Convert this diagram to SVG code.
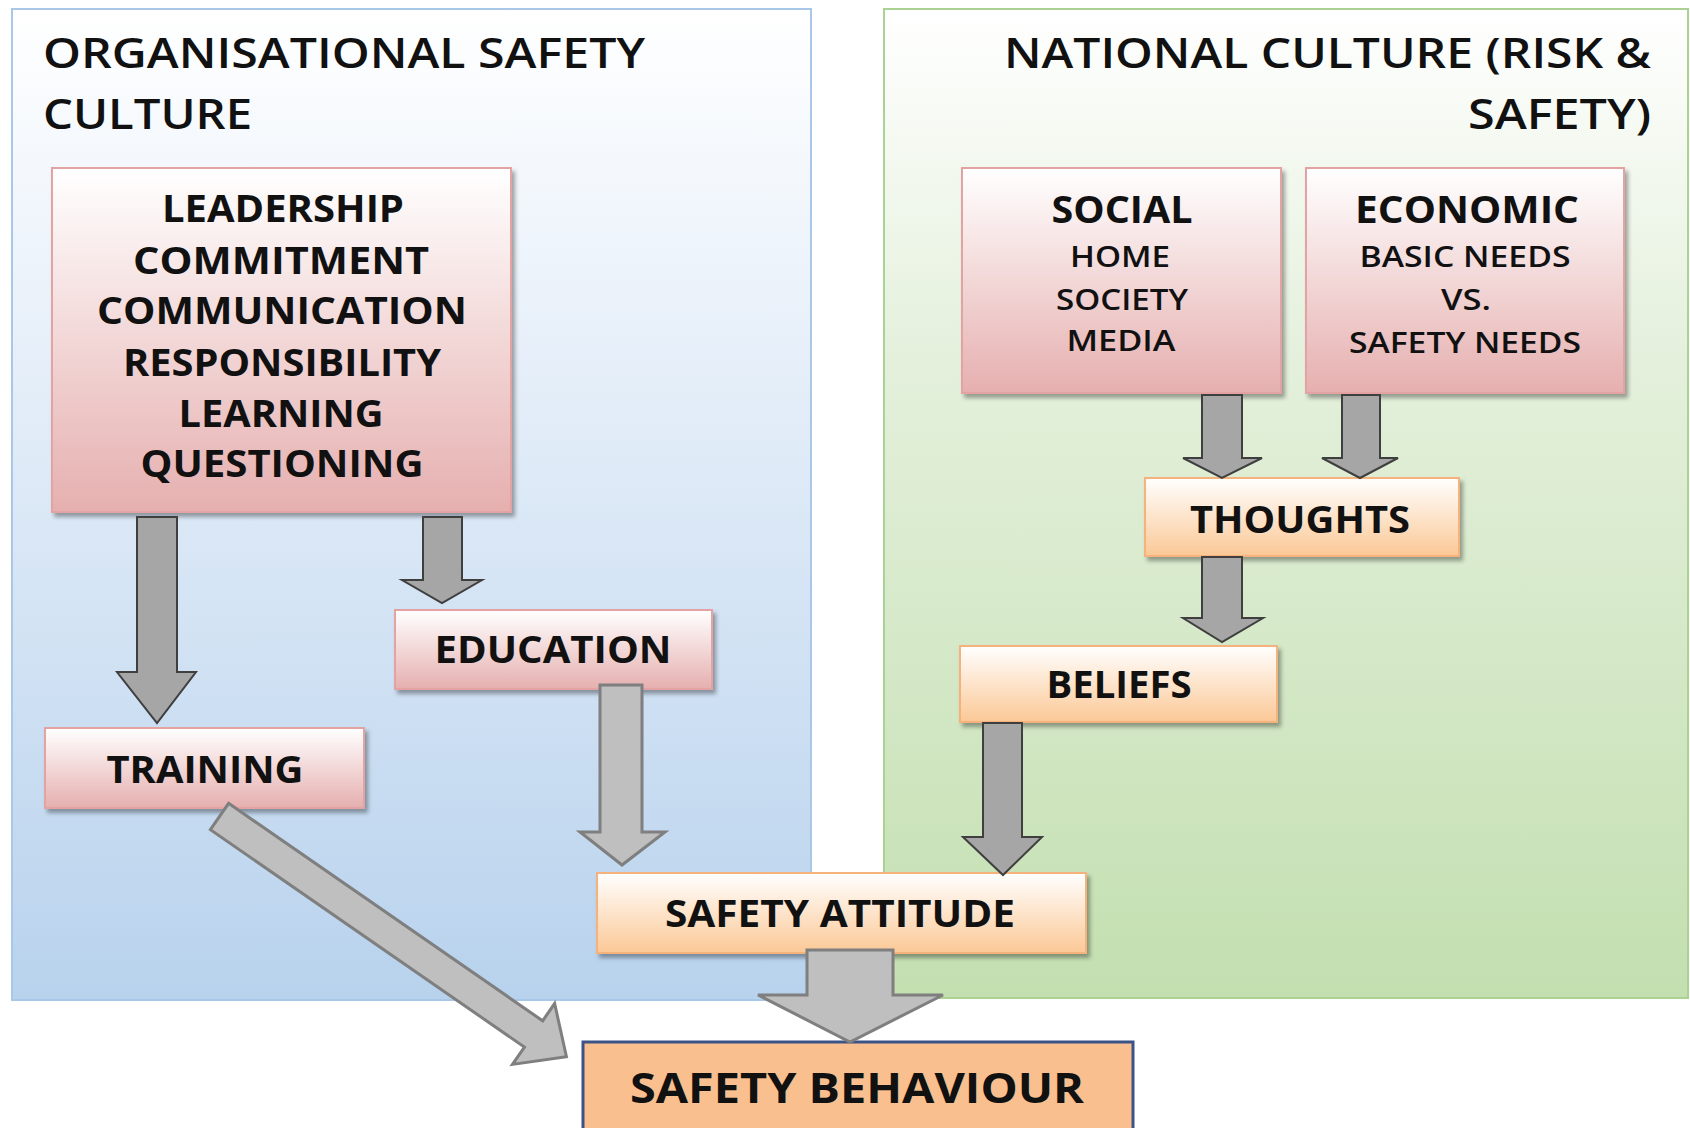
<svg xmlns="http://www.w3.org/2000/svg" width="1690" height="1128" viewBox="0 0 1690 1128">
  <defs>
    <linearGradient id="gBlue" x1="0" y1="0" x2="0" y2="1">
      <stop offset="0" stop-color="#ffffff"/>
      <stop offset="0.35" stop-color="#e6eff9"/>
      <stop offset="1" stop-color="#b8d2ed"/>
    </linearGradient>
    <linearGradient id="gGreen" x1="0" y1="0" x2="0" y2="1">
      <stop offset="0" stop-color="#ffffff"/>
      <stop offset="0.35" stop-color="#e4f0dc"/>
      <stop offset="1" stop-color="#c3dfb0"/>
    </linearGradient>
    <linearGradient id="gPink" x1="0" y1="0" x2="0" y2="1">
      <stop offset="0" stop-color="#ffffff"/>
      <stop offset="1" stop-color="#e6afaf"/>
    </linearGradient>
    <linearGradient id="gPeach" x1="0" y1="0" x2="0" y2="1">
      <stop offset="0" stop-color="#ffffff"/>
      <stop offset="1" stop-color="#fbc896"/>
    </linearGradient>
    <filter id="shadow" x="-10%" y="-10%" width="130%" height="140%">
      <feDropShadow dx="3" dy="4" stdDeviation="2" flood-color="#000" flood-opacity="0.35"/>
    </filter>
  </defs>
  <style>
    .panelL { fill: url(#gBlue); stroke: #a9c8e8; stroke-width: 2; }
    .panelR { fill: url(#gGreen); stroke: #acd293; stroke-width: 2; }
    .pink { fill: url(#gPink); stroke: #e3a3a3; stroke-width: 2; filter: url(#shadow); }
    .peach { fill: url(#gPeach); stroke: #f5b27c; stroke-width: 2; filter: url(#shadow); }
    .final { fill: #f9bf8e; stroke: #3c5388; stroke-width: 3; }
    .title { font-family: "Open Sans", "Liberation Sans", sans-serif; font-weight: 600; font-size: 42px; fill: #111; }
    .lbl { font-family: "Open Sans", "Liberation Sans", sans-serif; font-weight: 700; font-size: 38px; fill: #111; text-anchor: middle; }
    .sub { font-family: "Open Sans", "Liberation Sans", sans-serif; font-weight: 600; font-size: 29px; fill: #111; text-anchor: middle; }
    .big { font-family: "Open Sans", "Liberation Sans", sans-serif; font-weight: 700; font-size: 42px; fill: #111; text-anchor: middle; }
    .arrD { fill: #a6a6a6; stroke: #3f3f3f; stroke-width: 2; stroke-linejoin: miter; }
    .arrL { fill: #bfbfbf; stroke: #7f7f7f; stroke-width: 3; stroke-linejoin: miter; }
  </style>

  <!-- background panels -->
  <g id="panel-organisational">
    <rect class="panelL" x="12" y="9" width="799" height="991"/>
    <text class="title" x="43" y="68" textLength="602" lengthAdjust="spacingAndGlyphs">ORGANISATIONAL SAFETY</text>
    <text class="title" x="43" y="129" textLength="209" lengthAdjust="spacingAndGlyphs">CULTURE</text>
  </g>
  <g id="panel-national">
    <rect class="panelR" x="884" y="9" width="804" height="989"/>
    <text class="title" x="1651" y="68" text-anchor="end" textLength="647" lengthAdjust="spacingAndGlyphs">NATIONAL CULTURE (RISK &amp;</text>
    <text class="title" x="1651" y="129" text-anchor="end" textLength="183" lengthAdjust="spacingAndGlyphs">SAFETY)</text>
  </g>

  <!-- nodes -->
  <g id="node-leadership">
    <rect class="pink" x="52" y="168" width="459" height="344"/>
    <text class="lbl" x="283" y="222" textLength="242" lengthAdjust="spacingAndGlyphs">LEADERSHIP</text>
    <text class="lbl" x="281" y="274" textLength="296" lengthAdjust="spacingAndGlyphs">COMMITMENT</text>
    <text class="lbl" x="282" y="324" textLength="370" lengthAdjust="spacingAndGlyphs">COMMUNICATION</text>
    <text class="lbl" x="282" y="376" textLength="318" lengthAdjust="spacingAndGlyphs">RESPONSIBILITY</text>
    <text class="lbl" x="281" y="427" textLength="205" lengthAdjust="spacingAndGlyphs">LEARNING</text>
    <text class="lbl" x="282" y="477" textLength="283" lengthAdjust="spacingAndGlyphs">QUESTIONING</text>
  </g>
  <g id="node-social">
    <rect class="pink" x="962" y="168" width="319" height="225"/>
    <text class="lbl" x="1122" y="223" textLength="141" lengthAdjust="spacingAndGlyphs">SOCIAL</text>
    <text class="sub" x="1120" y="267" textLength="100" lengthAdjust="spacingAndGlyphs">HOME</text>
    <text class="sub" x="1122" y="310" textLength="132" lengthAdjust="spacingAndGlyphs">SOCIETY</text>
    <text class="sub" x="1121" y="351" textLength="109" lengthAdjust="spacingAndGlyphs">MEDIA</text>
  </g>
  <g id="node-economic">
    <rect class="pink" x="1306" y="168" width="318" height="225"/>
    <text class="lbl" x="1467" y="223" textLength="224" lengthAdjust="spacingAndGlyphs">ECONOMIC</text>
    <text class="sub" x="1465" y="267" textLength="211" lengthAdjust="spacingAndGlyphs">BASIC NEEDS</text>
    <text class="sub" x="1466" y="310" textLength="50" lengthAdjust="spacingAndGlyphs">VS.</text>
    <text class="sub" x="1465" y="353" textLength="232" lengthAdjust="spacingAndGlyphs">SAFETY NEEDS</text>
  </g>
  <g id="node-thoughts">
    <rect class="peach" x="1145" y="478" width="314" height="78"/>
    <text class="lbl" x="1300" y="533" textLength="220" lengthAdjust="spacingAndGlyphs">THOUGHTS</text>
  </g>
  <g id="node-beliefs">
    <rect class="peach" x="960" y="646" width="317" height="76"/>
    <text class="lbl" x="1119" y="698" textLength="145" lengthAdjust="spacingAndGlyphs">BELIEFS</text>
  </g>
  <g id="node-education">
    <rect class="pink" x="395" y="610" width="317" height="79"/>
    <text class="lbl" x="553" y="663" textLength="237" lengthAdjust="spacingAndGlyphs">EDUCATION</text>
  </g>
  <g id="node-training">
    <rect class="pink" x="45" y="728" width="319" height="80"/>
    <text class="lbl" x="205" y="783" textLength="197" lengthAdjust="spacingAndGlyphs">TRAINING</text>
  </g>
  <g id="node-attitude">
    <rect class="peach" x="597" y="873" width="489" height="80"/>
    <text class="lbl" x="840" y="927" textLength="350" lengthAdjust="spacingAndGlyphs">SAFETY ATTITUDE</text>
  </g>
  <g id="node-behaviour">
    <rect class="final" x="583" y="1042" width="550" height="100"/>
    <text class="big" x="857" y="1103" textLength="454" lengthAdjust="spacingAndGlyphs">SAFETY BEHAVIOUR</text>
  </g>

  <!-- block-arrow connectors -->
  <g id="connectors">
    <!-- leadership to training -->
    <path class="arrD" d="M137,517 H177 V672 H196 L157,723 L117,672 H137 Z"/>
    <!-- leadership to education -->
    <path class="arrD" d="M423,517 H462 V580 H482 L442,603 L402,580 H423 Z"/>
    <!-- social to thoughts -->
    <path class="arrD" d="M1202,395 H1242 V458 H1262 L1222,478 L1183,458 H1202 Z"/>
    <!-- economic to thoughts -->
    <path class="arrD" d="M1342,395 H1380 V458 H1398 L1360,478 L1322,458 H1342 Z"/>
    <!-- thoughts to beliefs -->
    <path class="arrD" d="M1202,557 H1242 V618 H1263 L1222,642 L1183,618 H1202 Z"/>
    <!-- beliefs to attitude -->
    <path class="arrD" d="M983,723 H1022 V837 H1042 L1003,875 L963,837 H983 Z"/>
    <!-- education to attitude -->
    <path class="arrL" d="M600,685 H642 V832 H665 L622,865 L580,832 H600 Z"/>
    <!-- attitude to behaviour -->
    <path class="arrL" d="M807,950 H893 V995 H943 L850,1042 L758,995 H807 Z"/>
    <!-- training to behaviour (diagonal) -->
    <path class="arrL" transform="translate(219.5,816.5) rotate(34.7)" d="M0,-16 H382 V-37 L422,0 L382,37 V16 H0 Z"/>
  </g>
</svg>
